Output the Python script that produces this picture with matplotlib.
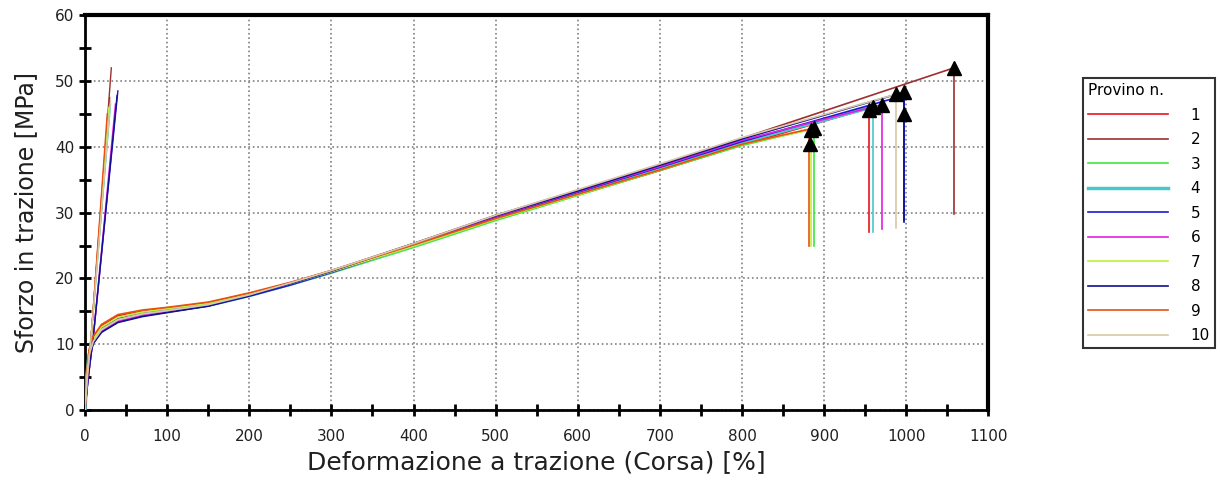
import numpy as np
import matplotlib.pyplot as plt
from matplotlib.ticker import MultipleLocator

# specimen ids and colours
provini = ['1', '2', '3', '4', '5', '6', '7', '8', '9', '10']
colori = ['#e8141e', '#9b3030', '#3ee83e', '#48c8c8', '#1a1ad0',
          '#e020e0', '#c0f040', '#101090', '#e85010', '#d8c8a8']
spessori = [1.2, 1.2, 1.2, 2.5, 1.2, 1.2, 1.2, 1.2, 1.2, 1.2]

# common strain points [%] for the main curves
corsa = [0, 2, 5, 10, 20, 40, 70, 100, 150, 200, 250, 300, 400, 500, 600, 700, 800]

# stress [MPa] at the strain points above, one list per specimen
sforzo = {
    '1':  [0, 5.5, 9.0, 11.0, 12.8, 14.3, 15.0, 15.5, 16.3, 17.7, 19.3, 21.1, 25.0, 29.1, 32.7, 36.4, 40.3],
    '2':  [0, 5.0, 8.5, 10.6, 12.4, 13.9, 14.7, 15.2, 16.1, 17.6, 19.3, 21.2, 25.3, 29.6, 33.4, 37.3, 41.3],
    '3':  [0, 4.8, 8.3, 10.3, 12.0, 13.5, 14.4, 15.0, 15.9, 17.4, 19.0, 20.8, 24.7, 28.8, 32.6, 36.4, 40.2],
    '4':  [0, 4.9, 8.4, 10.4, 12.1, 13.6, 14.5, 15.0, 15.9, 17.4, 19.1, 21.0, 25.0, 29.2, 33.0, 36.8, 40.7],
    '5':  [0, 4.7, 8.2, 10.2, 11.9, 13.4, 14.3, 14.9, 15.8, 17.3, 19.0, 20.9, 25.0, 29.3, 33.1, 36.9, 40.8],
    '6':  [0, 4.8, 8.3, 10.3, 12.0, 13.5, 14.4, 15.0, 15.9, 17.5, 19.2, 21.1, 25.2, 29.4, 33.2, 37.0, 41.0],
    '7':  [0, 5.2, 8.8, 10.8, 12.6, 14.1, 14.9, 15.4, 16.2, 17.6, 19.2, 21.0, 24.9, 29.0, 32.7, 36.5, 40.4],
    '8':  [0, 4.6, 8.1, 10.1, 11.8, 13.3, 14.2, 14.8, 15.8, 17.4, 19.2, 21.1, 25.3, 29.5, 33.3, 37.2, 41.2],
    '9':  [0, 5.6, 9.2, 11.2, 13.0, 14.5, 15.2, 15.6, 16.4, 17.8, 19.4, 21.2, 25.1, 29.1, 32.8, 36.5, 40.4],
    '10': [0, 4.9, 8.4, 10.4, 12.2, 13.7, 14.6, 15.1, 16.0, 17.5, 19.3, 21.2, 25.3, 29.6, 33.5, 37.4, 41.4],
}

# end of each curve (strain, stress) and lower end of the drop line
fine_x = [955, 1058, 888, 960, 997, 970, 884, 997, 882, 988]
fine_y = [45.9, 52.0, 42.8, 46.1, 47.8, 46.4, 42.6, 48.3, 42.7, 48.0]
caduta_y = [27.0, 29.8, 25.0, 27.0, 28.8, 27.5, 25.0, 28.5, 25.0, 27.6]

# break markers (triangles)
rottura_x = [955, 1058, 888, 960, 997, 970, 884, 997, 883, 988]
rottura_y = [45.6, 52.0, 42.8, 46.0, 45.0, 46.3, 42.5, 48.3, 40.5, 48.0]

# steep initial curves (strain, stress)
ripido_x = {
    '1': [0, 3, 8, 30], '2': [0, 3, 8, 32], '3': [0, 3, 8, 29], '4': [0, 3, 8, 31],
    '5': [0, 4, 10, 40], '6': [0, 4, 10, 37], '7': [0, 3, 8, 29], '8': [0, 4, 10, 39],
    '9': [0, 3, 8, 27], '10': [0, 3, 8, 31],
}
ripido_y = {
    '1': [0, 5, 12, 47.5], '2': [0, 5, 12, 52.0], '3': [0, 5, 12, 44.0], '4': [0, 5, 12, 46.5],
    '5': [0, 5, 11, 48.5], '6': [0, 5, 11, 46.5], '7': [0, 5, 12, 46.0], '8': [0, 5, 11, 47.8],
    '9': [0, 5, 12, 45.0], '10': [0, 5, 12, 47.0],
}

fig = plt.figure(figsize=(12.2, 4.91), dpi=100)
ax = fig.add_axes([0.0697, 0.165, 0.7405, 0.804])

for i, p in enumerate(provini):
    c = colori[i]
    xs = corsa + [fine_x[i]]
    ys = sforzo[p] + [fine_y[i]]
    ax.plot(xs, ys, color=c, lw=1.0, label=p, zorder=3)
    ax.plot(ripido_x[p], ripido_y[p], color=c, lw=1.0, zorder=3)
    # drop line after break
    ax.plot([fine_x[i], fine_x[i]], [fine_y[i], caduta_y[i]],
            color=c, lw=1.2, zorder=3)
    ax.plot(rottura_x[i], rottura_y[i], marker='^', color='black', ms=10.5, zorder=4)

ax.set_xlim(0, 1100)
ax.set_ylim(0, 60)
ax.xaxis.set_major_locator(MultipleLocator(100))
ax.xaxis.set_minor_locator(MultipleLocator(50))
ax.yaxis.set_major_locator(MultipleLocator(10))
ax.yaxis.set_minor_locator(MultipleLocator(5))
ax.tick_params(which='both', direction='inout', width=2, length=8,
               labelsize=11, labelcolor='#202020')
ax.tick_params(axis='x', which='major', pad=10)
ax.grid(True, which='major', linestyle=':', color='#808080', lw=1.2)
ax.set_axisbelow(True)

for s in ['top', 'right']:
    ax.spines[s].set_linewidth(3)
for s in ['left', 'bottom']:
    ax.spines[s].set_linewidth(2)

ax.set_xlabel('Deformazione a trazione (Corsa) [%]', fontsize=18, labelpad=4, color='#202020')
ax.set_ylabel('Sforzo in trazione [MPa]', fontsize=17, labelpad=12, color='#202020')

handles, labels = ax.get_legend_handles_labels()
for h, w in zip(handles, spessori):
    h.set_linewidth(w)
leg = fig.legend(handles, labels, title='Provino n.', loc='upper left',
                 bbox_to_anchor=(1083 / 1220, 1 - 78 / 491), fontsize=11,
                 title_fontsize=11, handlelength=5.2, labelspacing=0.62,
                 frameon=True, fancybox=False, edgecolor='black',
                 borderpad=0.35, handletextpad=1.5, borderaxespad=0,
                 alignment='left')
leg.get_frame().set_linewidth(1.5)

fig.savefig('out.png', dpi=100)
